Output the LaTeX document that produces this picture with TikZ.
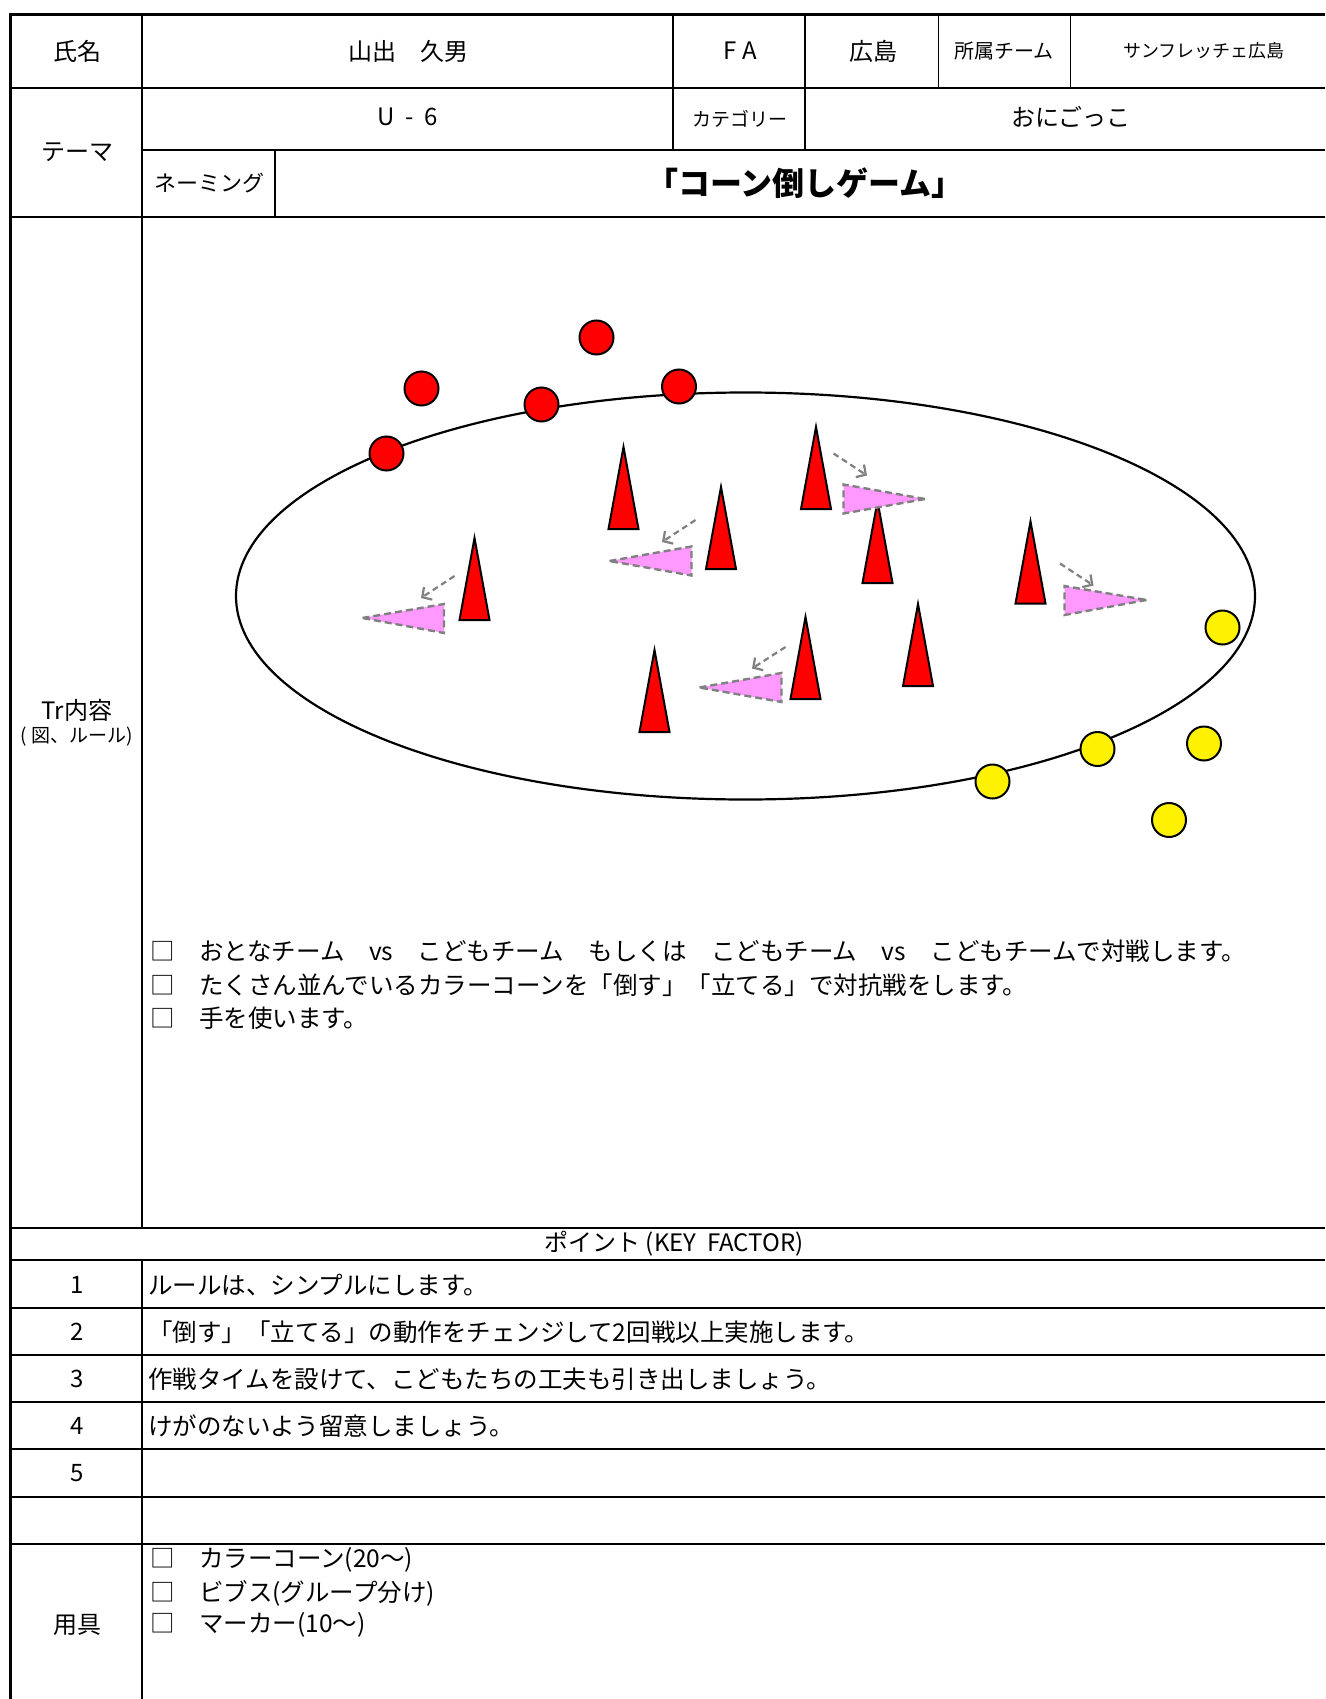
\documentclass[tikz,border=0pt]{standalone}
\usepackage{fontspec}
\setmainfont{Noto Sans CJK JP}
\usetikzlibrary{arrows.meta}
\definecolor{pinkc}{HTML}{FF99FF}
\definecolor{grayc}{HTML}{808080}
\newcommand{\fsz}[1]{\fontsize{#1}{#1}\selectfont}
\begin{document}
\begin{tikzpicture}[x=1pt,y=-1pt,
  gridline/.style={line width=1.5pt},
  thinline/.style={line width=1pt},
  heavyline/.style={line width=3pt},
  lbl/.style={inner sep=0pt, font=\fsz{24}},
  smalllbl/.style={inner sep=0pt, font=\fsz{19}},
  listtext/.style={inner sep=0pt, anchor=west, font=\fsz{24.5}},
  player/.style={circle, draw=black, line width=2pt, minimum size=34pt, inner sep=0pt},
  redp/.style={player, fill=red},
  yelp/.style={player, fill=yellow},
  conefill/.style={fill=red, draw=black, line width=2pt, line join=miter},
  fallen/.style={fill=pinkc, draw=grayc, line width=2.4pt, dash pattern=on 7pt off 4pt},
  move/.style={draw=grayc, line width=2.2pt, dash pattern=on 6pt off 4pt, -{Straight Barb[length=7pt,width=15pt]}}
]
\useasboundingbox (0,0) rectangle (1325,1699);
\fill[white] (0,0) rectangle (1325,1699);

% ---------- table grid ----------
\draw[gridline] (10,88) -- (1325,88);
\draw[gridline] (142,150) -- (1325,150);
\draw[gridline] (10,217) -- (1325,217);
\draw[gridline] (10,1228) -- (1325,1228);
\draw[gridline] (10,1260) -- (1325,1260);
\draw[gridline] (10,1308) -- (1325,1308);
\draw[gridline] (10,1355) -- (1325,1355);
\draw[gridline] (10,1402) -- (1325,1402);
\draw[gridline] (10,1449) -- (1325,1449);
\draw[gridline] (10,1497) -- (1325,1497);
\draw[line width=2.5pt] (10,1544) -- (1325,1544);
\draw[gridline] (142,15) -- (142,1228);
\draw[gridline] (142,1260) -- (142,1699);
\draw[gridline] (673,15) -- (673,150);
\draw[gridline] (805,15) -- (805,150);
\draw[thinline] (938,15) -- (938,88);
\draw[thinline] (1070,15) -- (1070,88);
\draw[gridline] (275,150) -- (275,217);
\draw[heavyline] (10,15) -- (1325,15);
\draw[heavyline] (10,13.5) -- (10,1699);

% ---------- header texts ----------
\node[lbl] (name) at (77,51) {氏名};
\node[lbl] (person) at (408,51) {山出　久男};
\node[lbl] (fa) at (740,51) {F A};
\node[lbl] (pref) at (873,51) {広島};
\node[inner sep=0pt, font=\fsz{20}] (team) at (1004,51) {所属チーム};
\node[inner sep=0pt, font=\fsz{18}] (teamname) at (1204,51) {サンフレッチェ広島};
\node[lbl] (theme) at (77,152) {テーマ};
\node[lbl] (u6) at (408,117) {U\ \ -\ \ 6};
\node[inner sep=0pt, font=\fsz{19}] (cat) at (740,119) {カテゴリー};
\node[lbl] (oni) at (1071,117) {おにごっこ};
\node[inner sep=0pt, font=\fsz{22}] (naming) at (209,183) {ネーミング};
\node[inner sep=0pt, font=\fsz{32}\bfseries] (title) at (805,183) {「コーン倒しゲーム」};

% ---------- Tr content label ----------
\node[lbl] (tr) at (77,710) {Tr内容};
\node[smalllbl] (trsub) at (77,737) {( 図、ルール)};

% ---------- diagram ----------
\draw[line width=2.2pt] (745.5,596) ellipse [x radius=509.5, y radius=203.5];

% standing cones
\draw[conefill] (623.5,447) -- (638.5,529) -- (608.5,529) -- cycle;
\draw[conefill] (721,487) -- (736,569) -- (706,569) -- cycle;
\draw[conefill] (816,427) -- (831,509) -- (801,509) -- cycle;
\draw[conefill] (877.5,501) -- (892.5,583) -- (862.5,583) -- cycle;
\draw[conefill] (474.5,538) -- (489.5,620) -- (459.5,620) -- cycle;
\draw[conefill] (654.5,650) -- (669.5,732) -- (639.5,732) -- cycle;
\draw[conefill] (805.5,617) -- (820.5,699) -- (790.5,699) -- cycle;
\draw[conefill] (918,604) -- (933,686) -- (903,686) -- cycle;
\draw[conefill] (1030.5,521.5) -- (1045.5,603.5) -- (1015.5,603.5) -- cycle;

% fallen cones
\draw[fallen] (362.5,618) -- (444,604) -- (444,633) -- cycle;
\draw[fallen] (609.5,561) -- (691.5,546.5) -- (691.5,575.5) -- cycle;
\draw[fallen] (699.5,687.5) -- (781.5,673) -- (781.5,702) -- cycle;
\draw[fallen] (925,499) -- (843.5,513.5) -- (843.5,484.5) -- cycle;
\draw[fallen] (1146.5,600) -- (1064.5,615) -- (1064.5,586) -- cycle;

% movement arrows
\coordinate (m1s) at (454.5,576);  \coordinate (m1e) at (421,598);
\coordinate (m2s) at (695.5,520);  \coordinate (m2e) at (662,542);
\coordinate (m3s) at (785.5,647);  \coordinate (m3e) at (752,668.5);
\coordinate (m4s) at (833.5,453.5);\coordinate (m4e) at (867,475.5);
\coordinate (m5s) at (1060,563.5); \coordinate (m5e) at (1093.5,585.5);
\draw[move] (m1s) -- (m1e);
\draw[move] (m2s) -- (m2e);
\draw[move] (m3s) -- (m3e);
\draw[move] (m4s) -- (m4e);
\draw[move] (m5s) -- (m5e);

% players
\node[redp] (r1) at (596.5,337.5) {};
\node[redp] (r2) at (421.5,388.5) {};
\node[redp] (r3) at (541.5,404.5) {};
\node[redp] (r4) at (679,386.5) {};
\node[redp] (r5) at (386.5,453.5) {};
\node[yelp] (y1) at (1222.5,627.5) {};
\node[yelp] (y2) at (1097.5,749) {};
\node[yelp] (y3) at (1204,743.5) {};
\node[yelp] (y4) at (992.5,781.5) {};
\node[yelp] (y5) at (1169,820) {};

% rules list
\node[listtext] (rule1) at (150,951) {□　おとなチーム　vs　こどもチーム　もしくは　こどもチーム　vs　こどもチームで対戦します。};
\node[listtext] (rule2) at (150,985) {□　たくさん並んでいるカラーコーンを「倒す」「立てる」で対抗戦をします。};
\node[listtext] (rule3) at (150,1018) {□　手を使います。};

% ---------- key factors ----------
\node[lbl] (point) at (674,1244) {ポイント (KEY\ \ FACTOR)};
\node[lbl] (n1) at (77,1285) {1};
\node[lbl] (n2) at (77,1332) {2};
\node[lbl] (n3) at (77,1379) {3};
\node[lbl] (n4) at (77,1426) {4};
\node[lbl] (n5) at (77,1473) {5};
\node[listtext] (k1) at (148,1285) {ルールは、シンプルにします。};
\node[listtext] (k2) at (148,1332) {「倒す」「立てる」の動作をチェンジして2回戦以上実施します。};
\node[listtext] (k3) at (148,1379) {作戦タイムを設けて、こどもたちの工夫も引き出しましょう。};
\node[listtext] (k4) at (148,1426) {けがのないよう留意しましょう。};

% ---------- equipment ----------
\node[lbl] (equip) at (77,1625) {用具};
\node[listtext] (e1) at (150,1560) {□　カラーコーン(20～)};
\node[listtext] (e2) at (150,1593) {□　ビブス(グループ分け)};
\node[listtext] (e3) at (150,1625) {□　マーカー(10～)};
\end{tikzpicture}
\end{document}
